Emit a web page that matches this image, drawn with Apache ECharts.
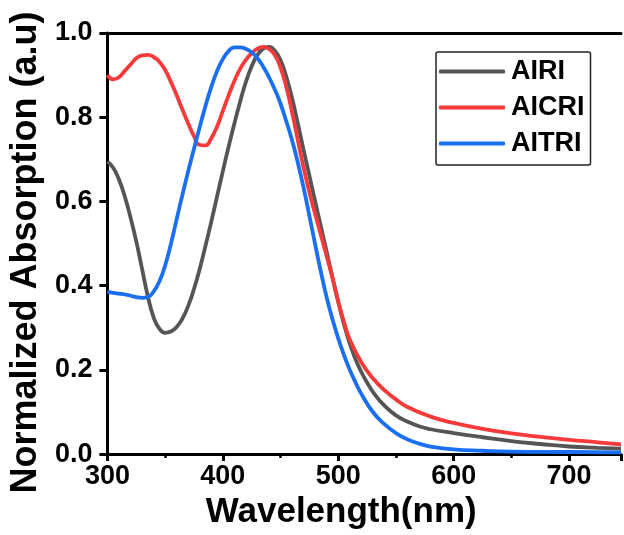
<!DOCTYPE html>
<html>
<head>
<meta charset="utf-8">
<script src="https://cdn.jsdelivr.net/npm/echarts@6/dist/echarts.min.js"></script>
<style>
html,body{margin:0;padding:0;background:#fff;}
#chart{width:624px;height:535px;}
</style>
</head>
<body>
<div id="chart"></div>
<script>
// ---- data ----
const seriesNames = ['AIRI', 'AICRI', 'AITRI'];
const xTicks = [300, 400, 500, 600, 700];
const yTicks = [0.0, 0.2, 0.4, 0.6, 0.8, 1.0];

const airiX = [300,305,310,315,320,325,330,335,340,345,350,355,360,365,370,375,380,385,390,395,400,405,410,415,420,425,430,435,440,445,450,455,460,465,470,475,480,485,490,495,500,505,510,515,520,525,530,540,550,560,570,580,600,625,650,675,700,725,745];
const airiY = [0.695,0.68,0.652,0.612,0.562,0.505,0.44,0.375,0.325,0.298,0.288,0.291,0.302,0.322,0.352,0.392,0.44,0.495,0.552,0.612,0.672,0.73,0.785,0.837,0.884,0.921,0.948,0.963,0.967,0.958,0.935,0.896,0.845,0.785,0.722,0.661,0.6,0.54,0.48,0.42,0.362,0.308,0.262,0.225,0.195,0.17,0.148,0.115,0.092,0.077,0.066,0.059,0.05,0.04,0.031,0.024,0.018,0.015,0.013];

const aicriX = [300,305,310,315,320,325,330,335,340,345,350,355,360,365,370,375,380,385,390,395,400,405,410,415,420,425,430,435,440,445,450,455,460,465,470,475,480,485,490,495,500,505,510,520,530,540,550,560,580,600,625,650,675,700,725,745];
const aicriY = [0.90,0.89,0.895,0.91,0.925,0.94,0.947,0.948,0.943,0.932,0.912,0.884,0.852,0.818,0.785,0.755,0.734,0.733,0.75,0.778,0.815,0.852,0.886,0.915,0.936,0.952,0.963,0.967,0.962,0.948,0.918,0.872,0.812,0.745,0.68,0.622,0.57,0.52,0.47,0.418,0.362,0.313,0.272,0.218,0.18,0.152,0.13,0.112,0.089,0.074,0.06,0.049,0.041,0.034,0.028,0.023];

const aitriX = [300,305,310,315,320,325,330,335,340,345,350,355,360,365,370,375,380,385,390,395,400,405,410,415,420,425,430,435,440,445,450,455,460,465,470,475,480,485,490,495,500,505,510,515,520,530,540,550,560,570,580,600,625,650,700,745];
const aitriY = [0.386,0.383,0.381,0.379,0.376,0.373,0.371,0.373,0.386,0.41,0.448,0.499,0.558,0.616,0.672,0.725,0.777,0.827,0.872,0.91,0.938,0.957,0.966,0.966,0.962,0.954,0.94,0.92,0.895,0.866,0.832,0.79,0.745,0.692,0.632,0.566,0.498,0.432,0.372,0.32,0.275,0.235,0.2,0.17,0.143,0.1,0.071,0.05,0.035,0.025,0.018,0.011,0.008,0.006,0.005,0.004];

const colors = ['#555555', '#f83a3a', '#1a6ff2'];

function pairs(xs, ys) { return xs.map((x, i) => [x, ys[i]]); }
const allX = [airiX, aicriX, aitriX];
const allY = [airiY, aicriY, aitriY];

const FONT = '"Liberation Sans", Arial, sans-serif';

const chart = echarts.init(document.getElementById('chart'), null, {renderer: 'canvas'});
chart.setOption({
  animation: false,
  backgroundColor: '#ffffff',
  grid: {left: 103, right: 0, top: 33, bottom: 75, containLabel: false},
  legend: {
    data: seriesNames,
    orient: 'vertical',
    left: 436,
    top: 52,
    padding: [6, 6, 8, 3],
    itemGap: 9,
    itemWidth: 66,
    itemHeight: 4,
    icon: 'roundRect',
    borderColor: '#222',
    borderWidth: 1.5,
    borderRadius: 2,
    textStyle: {fontFamily: FONT, fontSize: 27, fontWeight: 'bold', color: '#000', lineHeight: 27, padding: [0,0,0,1]}
  },
  xAxis: [{
    type: 'value',
    min: 300, max: 745, interval: 100,
    name: 'Wavelength(nm)',
    nameLocation: 'middle',
    nameGap: 37,
    nameTextStyle: {fontFamily: FONT, fontSize: 35, fontWeight: 'bold', color: '#000', padding: [0, 46, 0, 0]},
    axisLine: {show: true, lineStyle: {color: '#000', width: 3}},
    axisTick: {show: true, inside: false, length: 7, lineStyle: {color: '#000', width: 3}},
    minorTick: {show: true, splitNumber: 2, length: 4, lineStyle: {color: '#000', width: 2.5}},
    axisLabel: {
      margin: 9,
      fontFamily: FONT, fontSize: 27, fontWeight: 'bold', color: '#000',
      formatter: v => (xTicks.indexOf(v) >= 0 ? String(v) : '')
    },
    splitLine: {show: false}
  }, {
    type: 'value',
    position: 'top',
    min: 300, max: 745,
    axisLine: {show: true, lineStyle: {color: '#000', width: 3}},
    axisTick: {show: false},
    axisLabel: {show: false},
    splitLine: {show: false}
  }],
  yAxis: {
    type: 'value',
    min: 0, max: 1, interval: 0.2,
    name: 'Normalized Absorption (a.u)',
    nameLocation: 'middle',
    nameGap: 47,
    nameTextStyle: {fontFamily: FONT, fontSize: 36, fontWeight: 'bold', color: '#000', padding: [0, 18, 0, 0]},
    axisLine: {show: true, lineStyle: {color: '#000', width: 3}},
    axisTick: {show: true, inside: false, length: 8, lineStyle: {color: '#000', width: 3}},
    axisLabel: {
      margin: 15,
      fontFamily: FONT, fontSize: 27, fontWeight: 'bold', color: '#000',
      formatter: v => {
        const t = yTicks.find(y => Math.abs(y - v) < 1e-6);
        return t === undefined ? '' : t.toFixed(1);
      }
    },
    splitLine: {show: false}
  },
  series: seriesNames.map((name, i) => ({
    name: name,
    type: 'line',
    xAxisIndex: 0,
    data: pairs(allX[i], allY[i]),
    smooth: 0.5,
    showSymbol: false,
    symbol: 'none',
    clip: true,
    lineStyle: {color: colors[i], width: 3.8},
    itemStyle: {color: colors[i]}
  }))
});
</script>
</body>
</html>
